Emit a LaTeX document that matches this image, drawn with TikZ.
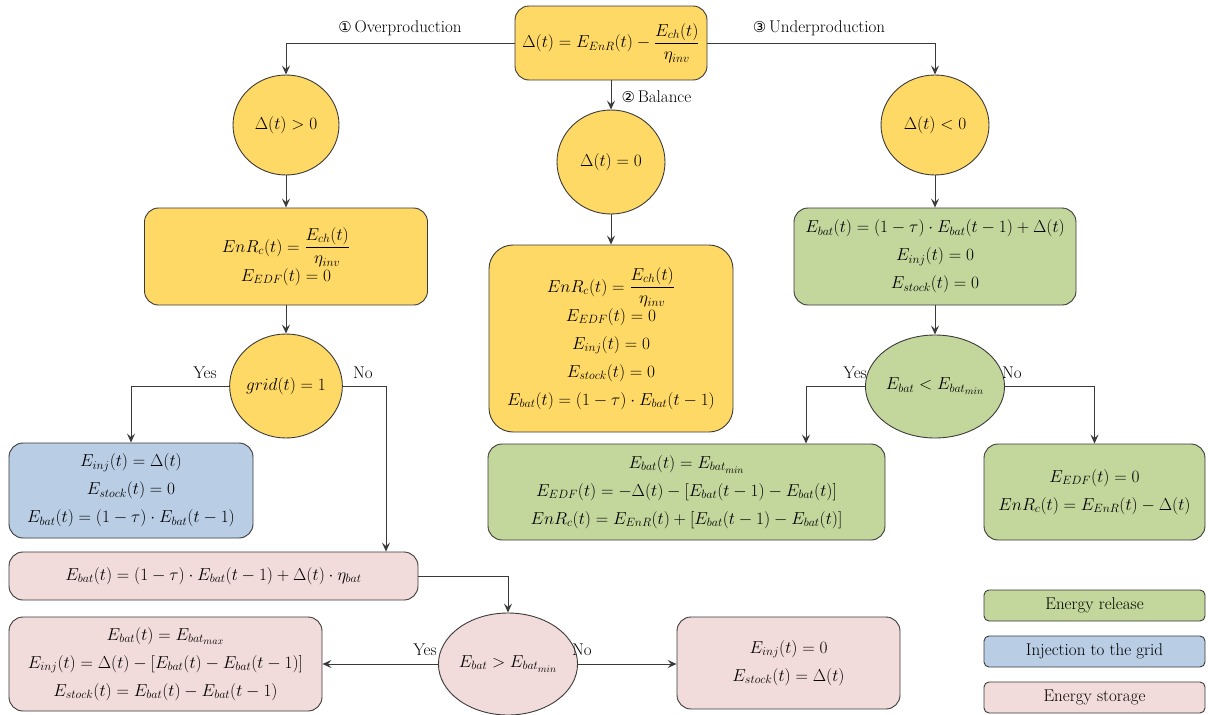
\documentclass[tikz,border=0pt]{standalone}
\usepackage{amsmath}
\usepackage{fontspec}
\newfontfamily\djv{DejaVu Sans}
\DeclareMathSizes{16}{16}{13}{10}
\usetikzlibrary{shapes.geometric,arrows.meta,calc}
\definecolor{yel}{HTML}{FFD966}
\definecolor{grn}{HTML}{C3D69B}
\definecolor{blu}{HTML}{B9CDE5}
\definecolor{pnk}{HTML}{F2DCDB}
\definecolor{edge}{HTML}{3A3A3A}
\tikzset{
  box/.style={draw=edge, line width=0.9pt, rounded corners=14pt, align=center, inner sep=2pt,
     font=\fontsize{16}{28}\selectfont},
  circ/.style={draw=edge, line width=0.9pt, ellipse, inner sep=0pt, font=\fontsize{16}{20}\selectfont},
  arr/.style={draw=edge, line width=1pt, -{Stealth[length=9pt,width=8pt,inset=3.5pt]}},
  lbl/.style={font=\fontsize{17}{20}\selectfont, text=black},
  leg/.style={draw=edge, line width=0.9pt, rounded corners=5pt, minimum width=221pt, minimum height=31pt,
     font=\fontsize{17}{20}\selectfont}
}
\begin{document}
\begin{tikzpicture}[x=1pt,y=-1pt]
\useasboundingbox (0,0) rectangle (1208,715);
% top
\node[box, fill=yel, minimum width=192pt, minimum height=74pt] (top) at (611,43)
  {$\Delta(t) = E_{EnR}(t) - \dfrac{E_{ch}(t)}{\eta_{inv}}$};
% circles first row
\node[circ, fill=yel, minimum width=106pt, minimum height=100pt] (c1) at (286,125) {$\Delta(t) > 0$};
\node[circ, fill=yel, minimum width=108pt, minimum height=104pt] (c2) at (611,162) {$\Delta(t) = 0$};
\node[circ, fill=yel, minimum width=108pt, minimum height=100pt] (c3) at (935,125) {$\Delta(t) < 0$};
% second row
\node[box, fill=yel, minimum width=283pt, minimum height=97pt] (b1) at (286,256.5)
  {$EnR_c(t) = \dfrac{E_{ch}(t)}{\eta_{inv}}$\\ $E_{EDF}(t) = 0$};
\node[box, fill=yel, minimum width=244pt, minimum height=187pt, rounded corners=24pt] (b2) at (611,338.5)
  {$EnR_c(t) = \dfrac{E_{ch}(t)}{\eta_{inv}}$\\ $E_{EDF}(t) = 0$\\ $E_{inj}(t) = 0$\\ $E_{stock}(t) = 0$\\ $E_{bat}(t) = (1-\tau)\cdot E_{bat}(t-1)$};
\node[box, fill=grn, minimum width=282pt, minimum height=97pt] (b3) at (935,256.5)
  {$E_{bat}(t) = (1-\tau)\cdot E_{bat}(t-1) + \Delta(t)$\\ $E_{inj}(t) = 0$\\ $E_{stock}(t) = 0$};
% decisions
\node[circ, fill=yel, minimum width=108pt, minimum height=104pt] (grid) at (286,386) {$grid(t) = 1$};
\node[circ, fill=grn, minimum width=110pt, minimum height=103pt] (gc) at (935,386.5) {$E_{bat} < E_{bat_{min}}$};
% third row
\node[box, fill=blu, minimum width=244pt, minimum height=95pt] (blue) at (131,490.5)
  {$E_{inj}(t) = \Delta(t)$\\ $E_{stock}(t) = 0$\\ $E_{bat}(t) = (1-\tau)\cdot E_{bat}(t-1)$};
\node[box, fill=grn, minimum width=397pt, minimum height=96pt] (gyes) at (686.5,492)
  {$E_{bat}(t) = E_{bat_{min}}$\\ $E_{EDF}(t) = -\Delta(t) - [E_{bat}(t-1) - E_{bat}(t)]$\\ $EnR_c(t) = E_{EnR}(t) + [E_{bat}(t-1) - E_{bat}(t)]$};
\node[box, fill=grn, minimum width=221pt, minimum height=96pt] (gno) at (1094.5,492)
  {$E_{EDF}(t) = 0$\\ $EnR_c(t) = E_{EnR}(t) - \Delta(t)$};
% storage
\node[box, fill=pnk, minimum width=409pt, minimum height=48pt] (p1) at (213.5,576)
  {$E_{bat}(t) = (1-\tau)\cdot E_{bat}(t-1) + \Delta(t)\cdot \eta_{bat}$};
\node[circ, fill=pnk, minimum width=116pt, minimum height=102pt] (pc) at (508,664) {$E_{bat} > E_{bat_{min}}$};
\node[box, fill=pnk, minimum width=313pt, minimum height=94pt] (p2) at (165.5,664)
  {$E_{bat}(t) = E_{bat_{max}}$\\ $E_{inj}(t) = \Delta(t) - [E_{bat}(t) - E_{bat}(t-1)]$\\ $E_{stock}(t) = E_{bat}(t) - E_{bat}(t-1)$};
\node[box, fill=pnk, minimum width=223pt, minimum height=92pt] (p3) at (788.5,663)
  {$E_{inj}(t) = 0$\\ $E_{stock}(t) = \Delta(t)$};
% legend
\node[leg, fill=grn] (l1) at (1094.5,605.5) {Energy release};
\node[leg, fill=blu] (l2) at (1094.5,651.5) {Injection to the grid};
\node[leg, fill=pnk] (l3) at (1094.5,697.5) {Energy storage};
% helper coordinates
\coordinate (nocol) at (386,0);
\coordinate (yescol) at (806,0);
% connectors
\draw[arr] (top.west) -| (c1.north);
\draw[arr] (top.east) -| (c3.north);
\draw[arr] (top.south) -- (c2.north);
\node[lbl, anchor=center] (lover) at (400,28) {{\djv\fontsize{15}{17}\selectfont ①}\,Overproduction};
\node[lbl, anchor=center] (lunder) at (819,28) {{\djv\fontsize{15}{17}\selectfont ③}\,Underproduction};
\node[lbl, anchor=west] (lbal) at (618,97) {{\djv\fontsize{15}{17}\selectfont ②}\,Balance};
\draw[arr] (c1.south) -- (b1.north);
\draw[arr] (b1.south) -- (grid.north);
\draw[arr] (c2.south) -- (b2.north);
\draw[arr] (c3.south) -- (b3.north);
\draw[arr] (b3.south) -- (gc.north);
\draw[arr] (grid.west) -| (blue.north);
\draw[arr] (grid.east) -| (nocol |- p1.north);
\node[lbl] (gy) at (205,373) {Yes};
\node[lbl] (gn) at (363,373) {No};
\draw[arr] (gc.west) -| (yescol |- gyes.north);
\draw[arr] (gc.east) -| (gno.north);
\node[lbl] (cy) at (855,373) {Yes};
\node[lbl] (cn) at (1012,373) {No};
\draw[arr] (p1.east) -| (pc.north);
\draw[arr] (pc.west) -- (pc.west -| p2.east);
\draw[arr] (pc.east) -- (pc.east -| p3.west);
\node[lbl] (py) at (425,650) {Yes};
\node[lbl] (pn) at (582,650) {No};
\end{tikzpicture}
\end{document}
